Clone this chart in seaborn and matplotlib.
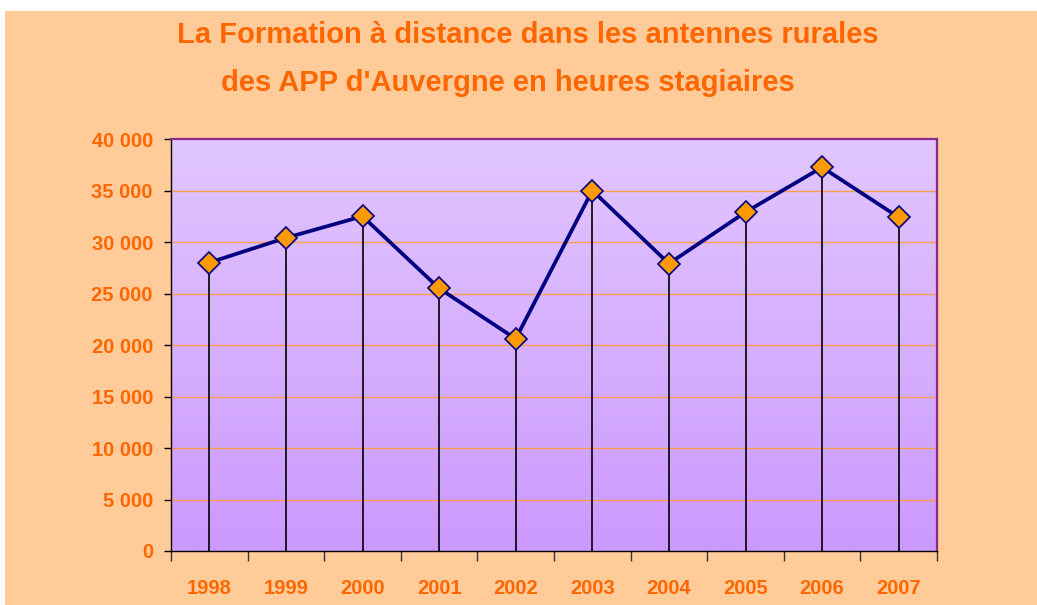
import numpy as np
import pandas as pd
import matplotlib
matplotlib.use("Agg")
import matplotlib.pyplot as plt
from matplotlib.colors import LinearSegmentedColormap
from matplotlib.patches import Rectangle
from matplotlib.ticker import FuncFormatter
import seaborn as sns

# ---- data ----
years = ["1998", "1999", "2000", "2001", "2002", "2003", "2004", "2005", "2006", "2007"]
hours = [28000, 30400, 32500, 25500, 20600, 35000, 27900, 32900, 37250, 32400]
y_ticks = [0, 5000, 10000, 15000, 20000, 25000, 30000, 35000, 40000]
title_line1 = "La Formation à distance dans les antennes rurales"
title_line2 = "des APP d'Auvergne en heures stagiaires"

sns.set_theme(style="white")
plt.rcParams["font.family"] = ["Liberation Sans", "DejaVu Sans"]

W, H = 1037, 605
fig = plt.figure(figsize=(W / 100, H / 100), dpi=100, facecolor="white")
fig.patches.append(Rectangle((5 / W, -0.01), 1.02 - 5 / W, 1.01 - 11 / H, transform=fig.transFigure,
                             facecolor="#FFCC99", edgecolor="none", zorder=-10))

left, right, top, bottom = 171, 937, 139, 551
ax = fig.add_axes([left / W, 1 - bottom / H, (right - left) / W, (bottom - top) / H])

df = pd.DataFrame({"pos": np.arange(len(years)), "year": years, "hours": hours})

# gradient background
cmap = LinearSegmentedColormap.from_list("bg", ["#CC99FF", "#E1C6FE"])
grad = np.linspace(0, 1, 256).reshape(-1, 1)
ax.imshow(grad, cmap=cmap, aspect="auto", origin="lower",
          extent=(-0.5, len(years) - 0.5, 0, 40000), zorder=0)

# grid lines
for t in y_ticks[1:-1]:
    ax.axhline(t, color="#FF9933", lw=1.0, alpha=0.85, zorder=1)

# drop lines
ax.vlines(df["pos"], 0, df["hours"], color="black", lw=1.2, zorder=2)

sns.lineplot(data=df, x="pos", y="hours", ax=ax, color="#000080", lw=2.7,
             marker="D", markersize=11.5, markerfacecolor="#FF9900",
             markeredgecolor="#000080", markeredgewidth=1.2, zorder=3)

ax.set_xlim(-0.5, len(years) - 0.5)
ax.set_ylim(0, 40000)
ax.set_xlabel("")
ax.set_ylabel("")

# x ticks at category boundaries, labels at centers
ax.set_xticks(np.arange(-0.5, len(years), 1.0))
ax.set_xticklabels([])
ax.set_xticks(df["pos"], minor=True)
ax.set_xticklabels(years, minor=True)
ax.tick_params(axis="x", which="major", direction="out", length=7, width=1, color="#333333", bottom=True)
ax.tick_params(axis="x", which="minor", length=0, pad=20, labelsize=14.5, labelcolor="#FF6600")
for lab in ax.get_xticklabels(minor=True):
    lab.set_fontweight("bold")

ax.set_yticks(y_ticks)
ax.yaxis.set_major_formatter(FuncFormatter(lambda v, p: f"{int(v):,}".replace(",", " ")))
ax.tick_params(axis="y", direction="out", length=5, width=1, color="black", left=True,
               pad=8, labelsize=14.5, labelcolor="#FF6600")
for lab in ax.get_yticklabels():
    lab.set_fontweight("bold")

for s in ["top", "right"]:
    ax.spines[s].set_color("#8B2A8B")
    ax.spines[s].set_linewidth(1.6)
for s in ["left", "bottom"]:
    ax.spines[s].set_color("black")
    ax.spines[s].set_linewidth(1.0)
for s in ax.spines.values():
    s.set_zorder(5)

fig.text(528 / W, 1 - 43 / H, title_line1, ha="center", va="baseline", fontsize=21,
         fontweight="bold", color="#FF6600")
fig.text(508 / W, 1 - 91 / H, title_line2, ha="center", va="baseline", fontsize=21,
         fontweight="bold", color="#FF6600")

fig.savefig("out.png", dpi=100, facecolor=fig.get_facecolor())
